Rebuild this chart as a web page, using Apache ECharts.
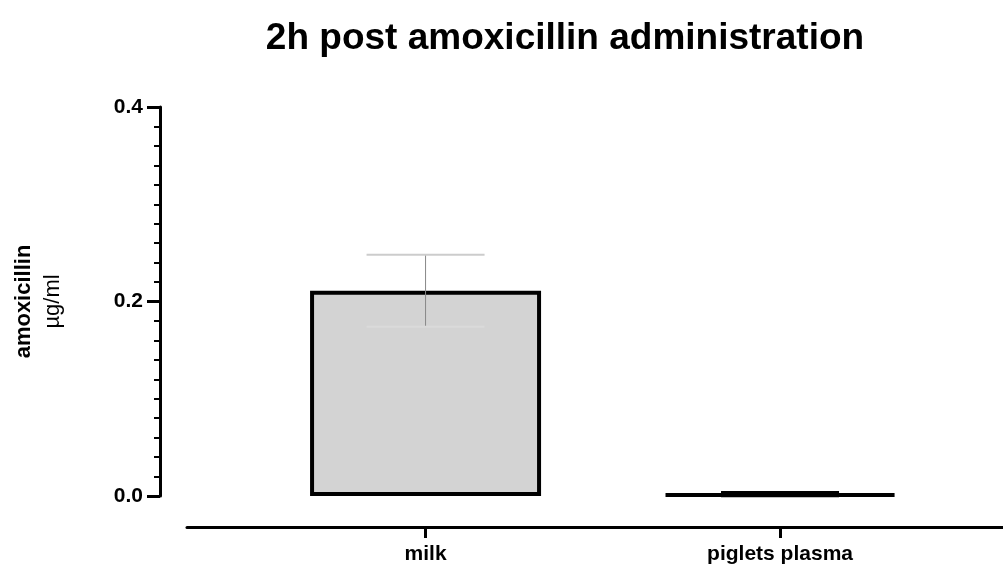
<!DOCTYPE html>
<html>
<head>
<meta charset="utf-8">
<script src="https://cdn.jsdelivr.net/npm/echarts@6/dist/echarts.min.js"></script>
<style>html,body{margin:0;padding:0;background:#fff;}#c{width:1003px;height:567px;}</style>
</head>
<body>
<div id="c"></div>
<script>
const title = '2h post amoxicillin administration';
const categories = ['milk', 'piglets plasma'];
const means = [0.211, 0.002];
const errs = [0.037, 0.0006];
const yTicks = [0, 0.2, 0.4];

const chart = echarts.init(document.getElementById('c'));
const F = '"Liberation Sans", Arial, sans-serif';
const barData = means.map((v, i) => [i, v]);
const errData = means.map((v, i) => [i, v - errs[i], v + errs[i], v]);

chart.setOption({
  animation: false,
  backgroundColor: '#fff',
  title: {
    text: title, left: 560, top: 15, textAlign: 'center',
    textStyle: { fontFamily: F, fontSize: 37, fontWeight: 'bold', color: '#000' }
  },
  grid: { left: 187, right: 0, top: 107, bottom: 71 },
  xAxis: {
    type: 'value', min: -0.673, max: 1.629, offset: 31,
    splitLine: { show: false },
    axisLine: { show: true, onZero: false, lineStyle: { color: '#000', width: 3 } },
    axisTick: { show: true, customValues: [0, 1], length: 11, lineStyle: { color: '#000', width: 3 } },
    axisLabel: {
      customValues: [0, 1], margin: 17,
      formatter: v => categories[Math.round(v)] || '',
      fontFamily: F, fontSize: 21, fontWeight: 'bold', color: '#000'
    }
  },
  yAxis: {
    type: 'value', min: yTicks[0], max: yTicks[yTicks.length - 1], interval: 0.2, offset: 27,
    splitLine: { show: false },
    axisLine: { show: true, onZero: false, lineStyle: { color: '#000', width: 3 } },
    axisTick: { show: true, length: 13, lineStyle: { color: '#000', width: 3 } },
    minorTick: { show: true, splitNumber: 10, length: 6, lineStyle: { color: '#000', width: 2 } },
    axisLabel: {
      margin: 17, formatter: v => v.toFixed(1),
      fontFamily: F, fontSize: 21, fontWeight: 'bold', color: '#000'
    },
    name: '{a|amoxicillin}\n{b|µg/ml}',
    nameLocation: 'middle', nameRotate: 90, nameGap: 93,
    nameTextStyle: {
      align: 'center',
      rich: {
        a: { fontFamily: F, fontSize: 22, fontWeight: 'bold', color: '#000', lineHeight: 29 },
        b: { fontFamily: F, fontSize: 22, color: '#000', lineHeight: 29 }
      }
    }
  },
  series: [
    {
      type: 'bar', data: barData, barWidth: 231,
      itemStyle: { color: '#d3d3d3', borderColor: '#000', borderWidth: 4 },
      z: 2
    },
    {
      type: 'custom', data: errData, z: 3,
      renderItem: (params, api) => {
        const x = api.value(0);
        const lo = api.coord([x, api.value(1)]);
        const hi = api.coord([x, api.value(2)]);
        const idx = params.dataIndex;
        const half = 59;
        const capColor = idx === 0 ? '#cccccc' : '#000';
        const capW = idx === 0 ? 2 : 5;
        return {
          type: 'group',
          children: [
            { type: 'line', shape: { x1: hi[0], y1: hi[1], x2: lo[0], y2: lo[1] }, style: { stroke: idx === 0 ? '#888' : '#000', lineWidth: 1 } },
            { type: 'line', shape: { x1: hi[0] - half, y1: hi[1], x2: hi[0] + half, y2: hi[1] }, style: { stroke: capColor, lineWidth: capW } },
            { type: 'line', shape: { x1: lo[0] - half, y1: lo[1], x2: lo[0] + half, y2: lo[1] }, style: { stroke: idx === 0 ? '#dadada' : '#000', lineWidth: capW } }
          ]
        };
      }
    }
  ]
});
</script>
</body>
</html>
